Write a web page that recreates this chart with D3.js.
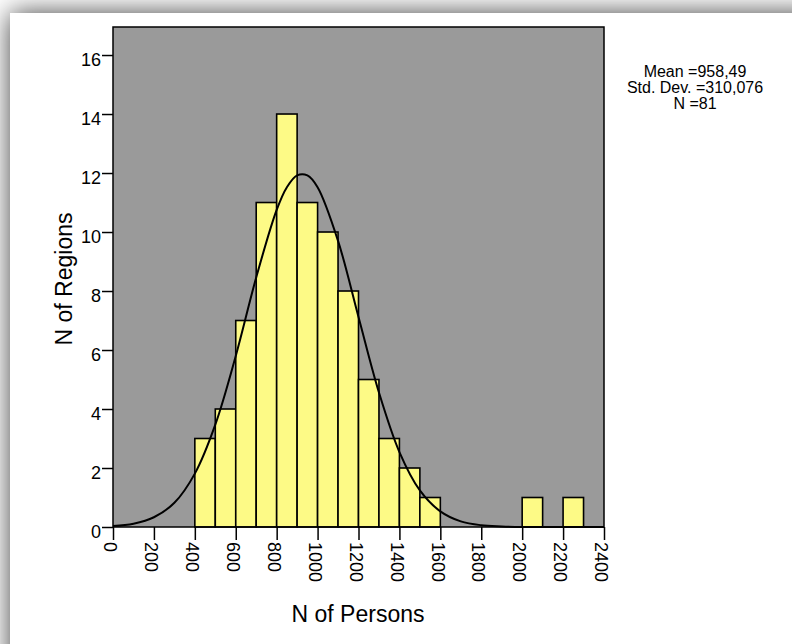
<!DOCTYPE html>
<html>
<head>
<meta charset="utf-8">
<script src="https://cdn.jsdelivr.net/npm/d3@7"></script>
<style>
    body { margin: 0; background: #fff; }
    text { font-family: "Liberation Sans", Arial, sans-serif; fill: #000; }
</style>
</head>
<body>
<svg class="hist" width="792" height="644"></svg>
<script>
// histogram bins (lower bound, bin width 100) and counts
const binStarts = [400, 500, 600, 700, 800, 900, 1000, 1100, 1200, 1300, 1400, 1500, 2000, 2200];
const binCounts = [3, 4, 7, 11, 14, 11, 10, 8, 5, 3, 2, 1, 1, 1];
const binWidth = 100;

// normal curve
const curveX = [0, 100, 200, 300, 400, 500, 600, 700, 800, 850, 900, 950, 1000, 1100, 1200,
    1300, 1400, 1500, 1600, 1700, 1800, 1900, 2000, 2100, 2200, 2300, 2400];
const curveY = [0.03, 0.11, 0.33, 0.82, 1.81, 3.47, 5.80, 8.46, 10.75, 11.52, 11.92, 11.92, 11.52, 9.70, 7.12,
    4.56, 2.54, 1.24, 0.53, 0.19, 0.06, 0.02, 0, 0, 0, 0, 0];

const xTicks = [0, 200, 400, 600, 800, 1000, 1200, 1400, 1600, 1800, 2000, 2200, 2400];
const yTicks = [0, 2, 4, 6, 8, 10, 12, 14, 16];
const statLines = ["Mean =958,49", "Std. Dev. =310,076", "N =81"];

let svg = d3.select("svg.hist");

// card with soft shadow
let defs = svg.append("defs");
let shadow = defs.append("filter")
    .attr("id", "shadow")
    .attr("x", "-20%").attr("y", "-20%")
    .attr("width", "140%").attr("height", "140%");
shadow.append("feDropShadow")
    .attr("dx", 0).attr("dy", 0)
    .attr("stdDeviation", 14)
    .attr("flood-color", "#000")
    .attr("flood-opacity", 0.75);

svg.append("rect")
    .attr("x", 10).attr("y", 13)
    .attr("width", 900).attr("height", 800)
    .attr("fill", "#fff")
    .attr("filter", "url(#shadow)");

let xScale = d3.scaleLinear()
    .domain([0, 2400])
    .range([113, 604]);
let yScale = d3.scaleLinear()
    .domain([0, 16.95])
    .range([527, 27]);

// plot background
svg.append("rect")
    .attr("x", xScale(0))
    .attr("y", yScale(16.95))
    .attr("width", xScale(2400) - xScale(0))
    .attr("height", yScale(0) - yScale(16.95))
    .attr("fill", "#9a9a9a");

// bars
svg.append("g")
    .selectAll("rect")
    .data(binStarts)
    .join("rect")
    .attr("x", d => xScale(d))
    .attr("y", (d, i) => yScale(binCounts[i]))
    .attr("width", d => xScale(d + binWidth) - xScale(d))
    .attr("height", (d, i) => yScale(0) - yScale(binCounts[i]))
    .attr("fill", "#fdfa86")
    .attr("stroke", "#000")
    .attr("stroke-width", 1.6);

// normal curve
svg.append("path")
    .datum(curveX.map((x, i) => [x, curveY[i]]))
    .attr("fill", "none")
    .attr("stroke", "#000")
    .attr("stroke-width", 2)
    .attr("d", d3.line()
        .curve(d3.curveCatmullRom)
        .x(d => xScale(d[0]))
        .y(d => yScale(d[1])));

// plot frame
svg.append("rect")
    .attr("x", xScale(0))
    .attr("y", yScale(16.95))
    .attr("width", xScale(2400) - xScale(0))
    .attr("height", yScale(0) - yScale(16.95))
    .attr("fill", "none")
    .attr("stroke", "#000")
    .attr("stroke-width", 1.5);

// y axis
let yAxis = svg.append("g")
    .attr("transform", "translate(" + xScale(0) + ",0)")
    .call(d3.axisLeft(yScale).tickValues(yTicks).tickSize(11).tickPadding(1).tickSizeOuter(0));
yAxis.select(".domain").remove();
yAxis.selectAll("line").attr("stroke", "#000").attr("stroke-width", 1.5);
yAxis.selectAll("text")
    .attr("font-size", "18px")
    .attr("dy", "10.5px")
    .style("font-family", "\"Liberation Sans\", Arial, sans-serif");

// x axis
let xAxis = svg.append("g")
    .attr("transform", "translate(0," + yScale(0) + ")")
    .call(d3.axisBottom(xScale).tickValues(xTicks).tickFormat(d3.format("d"))
        .tickSize(13).tickSizeOuter(0));
xAxis.select(".domain").remove();
xAxis.selectAll("line").attr("stroke", "#000").attr("stroke-width", 1.5);
xAxis.selectAll("text")
    .attr("font-size", "18px")
    .attr("transform", "rotate(90)")
    .attr("x", 15)
    .attr("y", 3)
    .attr("dy", "0.35em")
    .style("text-anchor", "start")
    .style("font-family", "\"Liberation Sans\", Arial, sans-serif");

// axis titles
svg.append("text")
    .attr("x", 358)
    .attr("y", 622)
    .attr("text-anchor", "middle")
    .attr("font-size", "23px")
    .text("N of Persons");
svg.append("text")
    .attr("transform", "translate(72,279) rotate(-90)")
    .attr("text-anchor", "middle")
    .attr("font-size", "23px")
    .text("N of Regions");

// stats box
svg.append("g")
    .selectAll("text")
    .data(statLines)
    .join("text")
    .attr("x", 695)
    .attr("y", (d, i) => 77 + i * 16)
    .attr("text-anchor", "middle")
    .attr("font-size", "16px")
    .text(d => d);
</script>
</body>
</html>
